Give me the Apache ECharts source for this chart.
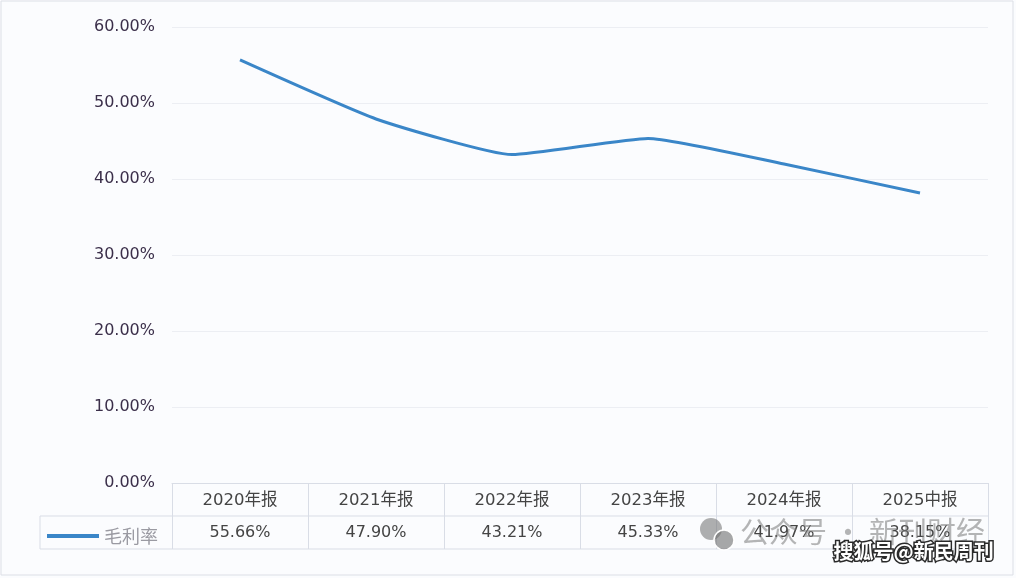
<!DOCTYPE html>
<html><head><meta charset="utf-8">
<script src="https://cdn.jsdelivr.net/npm/echarts@6/dist/echarts.min.js"></script>
<style>html,body{margin:0;padding:0;background:#fff}#c{width:1016px;height:578px}</style>
</head><body><div id="c"></div>
<script>
const categories = ['2020年报','2021年报','2022年报','2023年报','2024年报','2025中报'];
const grossMargin = [55.66, 47.90, 43.21, 45.33, 41.97, 38.15];
const seriesName = '毛利率';
const yMin = 0, yMax = 60, yStep = 10;

const FONT = '"DejaVu Sans", "Noto Sans CJK SC", sans-serif';
const CJK = '"Noto Sans CJK SC", sans-serif';
const gridL = 172, gridR = 28, gridT = 27, gridB = 95;
const W = 1016, H = 578;
const axisY = H - gridB;
const rowH = 33;
const lineColor = '#d9dde6';

const chart = echarts.init(document.getElementById('c'));
chart.setOption({
  backgroundColor: '#fbfcfe',
  animation: false,
  grid: { left: gridL, right: gridR, top: gridT, bottom: gridB },
  legend: {
    left: 42, top: 522, itemWidth: 52, itemHeight: 4, itemGap: 8,
    icon: 'rect',
    textStyle: { color: '#9a9aa2', fontSize: 18, fontFamily: CJK },
    data: [seriesName]
  },
  xAxis: [
    {
      type: 'category', data: categories, position: 'bottom', boundaryGap: true,
      axisLine: { show: true, lineStyle: { color: lineColor, width: 1 } },
      axisTick: { show: true, inside: false, length: rowH * 2, lineStyle: { color: lineColor } },
      axisLabel: { color: '#444', fontSize: 16.5, fontFamily: FONT, margin: 9 }
    },
    {
      type: 'category', data: grossMargin.map(v => v.toFixed(2) + '%'), position: 'bottom', offset: rowH,
      boundaryGap: true,
      axisLine: { show: false }, axisTick: { show: false },
      axisLabel: { color: '#444', fontSize: 16, fontFamily: FONT, margin: 9 }
    }
  ],
  yAxis: {
    type: 'value', min: yMin, max: yMax, interval: yStep,
    axisLine: { show: false }, axisTick: { show: false },
    axisLabel: { color: '#3b2f4a', fontSize: 16, fontFamily: FONT, margin: 17,
      formatter: v => v.toFixed(2) + '%' },
    splitLine: { lineStyle: { color: '#eceef3', width: 1 } }
  },
  series: [{
    name: seriesName, type: 'line', data: grossMargin, smooth: 0.15,
    symbol: 'none', lineStyle: { color: '#3a86c8', width: 3 }, itemStyle: { color: '#3a86c8' }
  }],
  graphic: [
    { type: 'rect', shape: { x: 1, y: 1, width: 1012, height: 574 }, style: { fill: 'none', stroke: '#dcdfe6', lineWidth: 1 }, z: 0 },
    { type: 'line', shape: { x1: 40, y1: axisY + rowH, x2: W - gridR, y2: axisY + rowH }, style: { stroke: lineColor, lineWidth: 1 } },
    { type: 'line', shape: { x1: 40, y1: axisY + rowH * 2, x2: W - gridR, y2: axisY + rowH * 2 }, style: { stroke: lineColor, lineWidth: 1 } },
    { type: 'line', shape: { x1: 40, y1: axisY + rowH, x2: 40, y2: axisY + rowH * 2 }, style: { stroke: lineColor, lineWidth: 1 } },
    { type: 'circle', shape: { cx: 711, cy: 529, r: 11 }, style: { fill: 'rgba(110,110,110,0.55)' }, z: 100 },
    { type: 'circle', shape: { cx: 724, cy: 540, r: 10 }, style: { fill: 'rgba(110,110,110,0.6)', stroke: '#fff', lineWidth: 1.5 }, z: 101 },
    { type: 'text', left: 740, top: 517, z: 100,
      style: { text: '公众号 · 新刊财经', fill: 'rgba(120,120,120,0.55)', fontSize: 29, fontFamily: CJK } },
    { type: 'text', left: 832, top: 540, z: 102,
      style: { text: '搜狐号@新民周刊', fill: '#fff', stroke: '#2a2a2a', lineWidth: 3, fontSize: 20, fontWeight: 'bold', fontFamily: CJK } }
  ]
});
</script></body></html>
